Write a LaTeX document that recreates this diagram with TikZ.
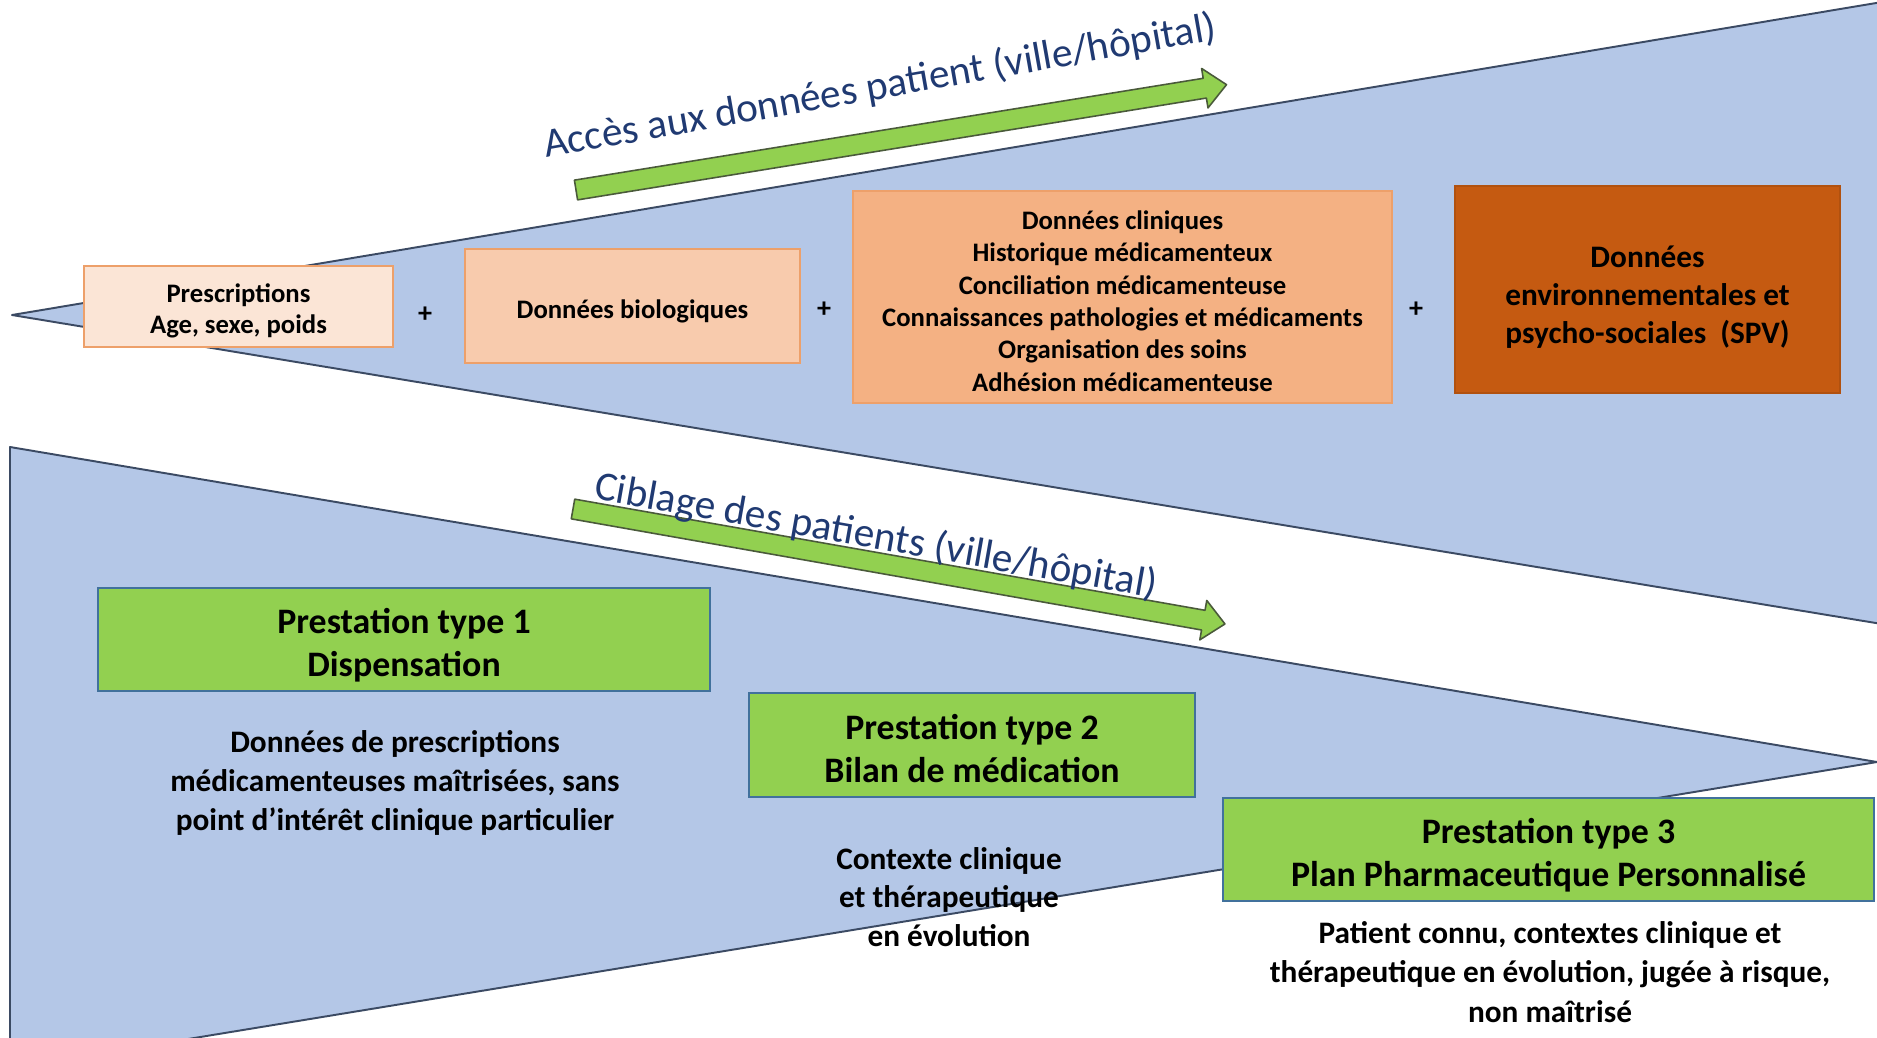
\documentclass[tikz,border=0pt]{standalone}
\usepackage{fontspec}
\setmainfont{Carlito}
\usepackage{xcolor}
\usetikzlibrary{positioning}

\definecolor{wedgeblue}{HTML}{B4C7E7}
\definecolor{wedgeline}{HTML}{3B4A63}
\definecolor{titleblue}{HTML}{203A72}
\definecolor{arrowgreen}{HTML}{92D050}
\definecolor{arrowline}{HTML}{4A5A3A}
\definecolor{prestline}{HTML}{41719C}
\definecolor{peachA}{HTML}{FBE5D6}
\definecolor{peachB}{HTML}{F8CBAD}
\definecolor{peachC}{HTML}{F4B183}
\definecolor{rust}{HTML}{C55A11}
\definecolor{peachline}{HTML}{EDA06A}

% strut that pushes a box text a little down
\newcommand{\firststrut}[1]{\rule{0pt}{#1}}

\begin{document}
\begin{tikzpicture}[
  x=0.2mm, y=-0.2mm,
  wedge/.style={fill=wedgeblue, draw=wedgeline, line width=1.1pt, line join=round},
  greenarrow/.style={fill=arrowgreen, draw=arrowline, line width=0.9pt, line join=round},
  title/.style={text=titleblue, inner sep=0pt, font=\fontsize{23.5}{27}\selectfont},
  databox/.style={rectangle, draw=peachline, line width=0.8pt, inner sep=0pt, align=center, font=\bfseries\fontsize{15.2}{17.8}\selectfont},
  plus/.style={inner sep=0pt, font=\bfseries\fontsize{16}{18}\selectfont},
  prestbox/.style={rectangle, fill=arrowgreen, draw=prestline, line width=1pt, inner sep=0pt, align=center, font=\bfseries\fontsize{20.4}{24.5}\selectfont},
  desc/.style={inner sep=0pt, align=center, font=\bfseries\fontsize{17.8}{22}\selectfont}
]
\useasboundingbox (0,0) rectangle (1877,1037);

% the two wedges
\begin{scope}
  \clip (0,0) rectangle (1877,1037);
  \draw[wedge] (12,315) -- (1900,-1) -- (1900,627) -- cycle;
  \draw[wedge] (10,447) -- (1877,762) -- (60,1060) -- (10,1060) -- cycle;
\end{scope}

% green arrows
\begin{scope}[shift={(576,190)}, rotate=9.2]
  \draw[greenarrow] (0,-10) -- (637,-10) -- (637,-20) -- (659,0) -- (637,20) -- (637,10) -- (0,10) -- cycle;
\end{scope}
\begin{scope}[shift={(573,509)}, rotate=-10]
  \draw[greenarrow] (0,-10) -- (640,-10) -- (640,-20) -- (662,0) -- (640,20) -- (640,10) -- (0,10) -- cycle;
\end{scope}

\node[title, rotate=10] (accestitle) at (880,87) {Accès aux données patient (ville/hôpital)};
\node[title, rotate=-10] (ciblagetitle) at (876,537) {Ciblage des patients (ville/hôpital)};

% patient data
\node[databox, fill=peachA, minimum width=61.8mm, minimum height=16.2mm] (presc) at (238.5,306.5) {\firststrut{1.04em}Prescriptions\\Age, sexe, poids};
\node[databox, fill=peachB, minimum width=67mm, minimum height=22.8mm] (bio) at (632.5,306) {\firststrut{1.08em}Données biologiques};
\node[databox, fill=peachC, minimum width=107.8mm, minimum height=42.4mm, font=\bfseries\fontsize{15.2}{18.4}\selectfont] (clin) at (1122.5,297) {\firststrut{1em}Données cliniques\\Historique médicamenteux\\Conciliation médicamenteuse\\Connaissances pathologies et médicaments\\Organisation des soins\\Adhésion médicamenteuse};
\node[databox, fill=rust, draw=rust!90!black, minimum width=77mm, minimum height=41.4mm, font=\bfseries\fontsize{17.8}{21.6}\selectfont] (envir) at (1647.5,289.5) {\firststrut{1.18em}Données\\environnementales et\\psycho-sociales~~(SPV)};
\node[plus] (plusa) at (425,315) {+};
\node[plus] (plusb) at (824,310) {+};
\node[plus] (plusc) at (1416,310) {+};

% prestations
\node[prestbox, minimum width=122.4mm, minimum height=20.6mm] (prest1) at (404,639.5) {\firststrut{1em}Prestation type 1\\Dispensation};
\node[prestbox, minimum width=89.2mm, minimum height=20.8mm] (prest2) at (972,745) {\firststrut{0.92em}Prestation type 2\\Bilan de médication};
\node[prestbox, minimum width=130.2mm, minimum height=20.6mm] (prest3) at (1548.5,849.5) {\firststrut{1em}Prestation type 3\\Plan Pharmaceutique Personnalisé};

\node[desc] (descone) at (395,783) {Données de prescriptions\\médicamenteuses maîtrisées, sans\\point d’intérêt clinique particulier};
\node[desc] (desctwo) at (949,897) {Contexte clinique\\et thérapeutique\\en évolution};
\node[desc, font=\bfseries\fontsize{17.8}{22.5}\selectfont] (descthree) at (1550,972) {Patient connu, contextes clinique et\\thérapeutique en évolution, jugée à risque,\\non maîtrisé};
\end{tikzpicture}
\end{document}
